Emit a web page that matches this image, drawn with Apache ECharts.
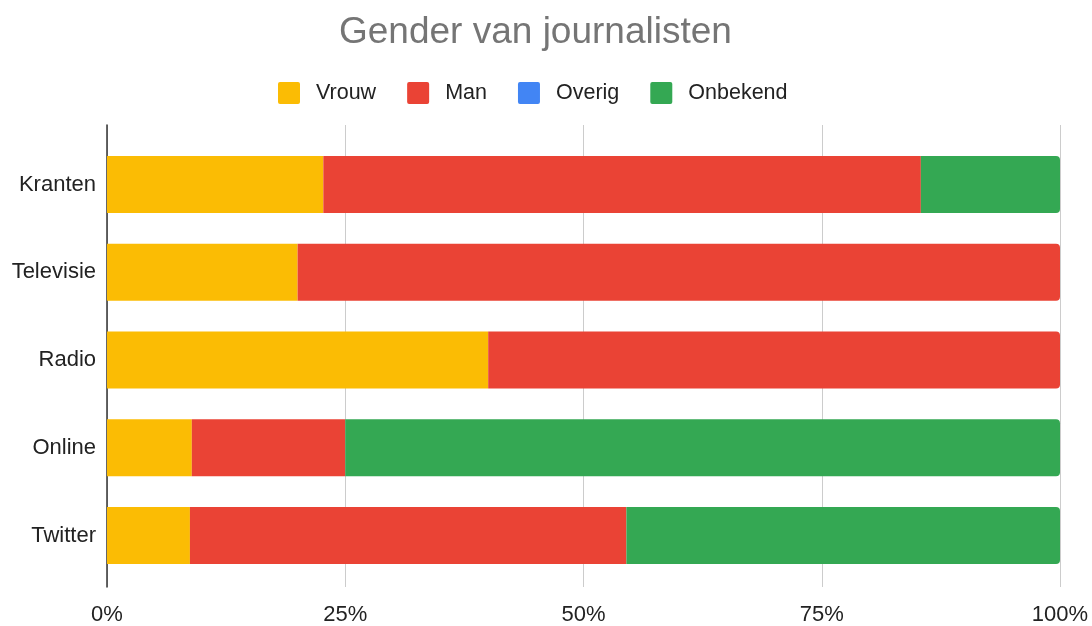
<!DOCTYPE html>
<html><head><meta charset="utf-8">
<script src="https://cdn.jsdelivr.net/npm/echarts@6/dist/echarts.min.js"></script>
<style>html,body{margin:0;padding:0;background:#fff}#c{width:1092px;height:626px}</style>
</head><body><div id="c"></div>
<script>
const categories = ['Kranten', 'Televisie', 'Radio', 'Online', 'Twitter'];
const vrouw = [22.7, 20.0, 40.0, 8.9, 8.7];
const man = [62.7, 80.0, 60.0, 16.1, 45.8];
const overig = [0, 0, 0, 0, 0];
const onbekend = [14.6, 0, 0, 75.0, 45.5];
const xTicks = ['0%', '25%', '50%', '75%', '100%'];

const seriesDefs = [
  {name: 'Vrouw', data: vrouw, color: '#fbbc04'},
  {name: 'Man', data: man, color: '#ea4335'},
  {name: 'Overig', data: overig, color: '#4285f4'},
  {name: 'Onbekend', data: onbekend, color: '#34a853'}
];
const lastIdx = categories.map((_, ci) => {
  let li = 0;
  seriesDefs.forEach((s, si) => { if (s.data[ci] > 0) li = si; });
  return li;
});

const font = '"Liberation Sans", Arial, sans-serif';
const chart = echarts.init(document.getElementById('c'));
chart.setOption({
  animation: false,
  textStyle: {fontFamily: font},
  title: {
    text: 'Gender van journalisten', left: 334, top: 9,
    textStyle: {fontFamily: font, fontSize: 37, fontWeight: 'normal', color: '#757575'}
  },
  legend: {
    top: 77, left: 273, itemWidth: 22, itemHeight: 22, itemGap: 31,
    icon: 'path://M2,0H20A2,2,0,0,1,22,2V20A2,2,0,0,1,20,22H2A2,2,0,0,1,0,20V2A2,2,0,0,1,2,0Z',
    textStyle: {fontFamily: font, fontSize: 21.5, color: '#222', padding: [0, 0, 0, 11]},
    data: seriesDefs.map(s => s.name)
  },
  grid: [
    {left: 107, right: 32, top: 125, bottom: 33, containLabel: false},
    {left: 107, right: 32, top: 140.6, bottom: 46.6, containLabel: false}
  ],
  xAxis: [
    {
      gridIndex: 0, type: 'value', min: 0, max: 100, interval: 25,
      axisLine: {show: false}, axisTick: {show: false},
      splitLine: {lineStyle: {color: '#cccccc', width: 1}},
      axisLabel: {fontFamily: font, fontSize: 22, color: '#222', margin: 17,
        formatter: v => xTicks[Math.round(v / 25)]}
    },
    {
      gridIndex: 1, type: 'value', min: 0, max: 100, show: false
    }
  ],
  yAxis: [
    {
      gridIndex: 0, type: 'value', min: 0, max: 1,
      axisLine: {show: true, lineStyle: {color: '#333', width: 1.5}},
      axisTick: {show: false}, axisLabel: {show: false}, splitLine: {show: false}
    },
    {
      gridIndex: 1, type: 'category', data: categories, inverse: true,
      axisLine: {show: false}, axisTick: {show: false},
      axisLabel: {fontFamily: font, fontSize: 22, color: '#222', margin: 11}
    }
  ],
  series: seriesDefs.map((s, si) => ({
    name: s.name, type: 'bar', stack: 'total', barWidth: 57,
    xAxisIndex: 1, yAxisIndex: 1,
    itemStyle: {color: s.color},
    data: s.data.map((v, ci) => lastIdx[ci] === si
      ? {value: v, itemStyle: {borderRadius: [0, 4, 4, 0]}}
      : v)
  }))
});
</script></body></html>
